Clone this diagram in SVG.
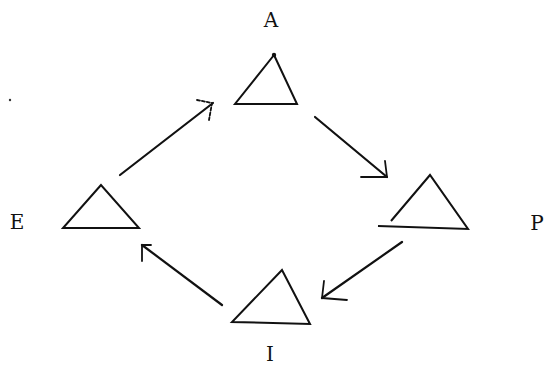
<svg xmlns="http://www.w3.org/2000/svg" width="546" height="367" viewBox="0 0 546 367">
<style>
.tri{fill:none;stroke:#111;stroke-width:2;stroke-linejoin:miter}
.ln{fill:none;stroke:#111;stroke-width:2.2;stroke-linecap:round}
.hd{fill:none;stroke:#111;stroke-width:1.8;stroke-linecap:round;stroke-linejoin:round}
.lbl{font-family:"DejaVu Serif","Liberation Serif",serif;font-size:20px;fill:#111;text-anchor:middle}
</style>
<rect width="546" height="367" fill="#fff"/>
<g id="node-A">
<path class="tri" d="M274,55 L235,104 L297,104 Z"/>
<circle cx="274" cy="55" r="2.2" fill="#111"/>
<text class="lbl" x="271" y="27">A</text>
</g>
<g id="node-E">
<path class="tri" d="M101,185 L63,228 L139,228 Z"/>
<text class="lbl" x="17" y="229">E</text>
</g>
<g id="node-P">
<path class="tri" d="M391,221 L430,175 L468,229 L378,226"/>
<text class="lbl" x="537" y="230">P</text>
</g>
<g id="node-I">
<path class="tri" d="M282,270 L232,322 L310,324 Z"/>
<text class="lbl" x="270" y="361">I</text>
</g>
<g id="connectors">
<line class="ln" x1="120" y1="175" x2="213" y2="103"/>
<path class="hd" d="M197,100 L212,103 L209,120" stroke-dasharray="3,2"/>
<line class="ln" x1="315" y1="117" x2="387" y2="177"/>
<path class="hd" d="M385,161 L387,177 L361,177" stroke-width="2.4"/>
<line class="ln" x1="402" y1="242" x2="322" y2="298"/>
<path class="hd" d="M324,281 L322,298 L347,300" stroke-width="2.4"/>
<line class="ln" x1="222" y1="305" x2="142" y2="245"/>
<path class="hd" d="M151,245 L142,245 L142,261"/>
</g>
<circle cx="10" cy="100" r="1.2" fill="#333"/>
</svg>
